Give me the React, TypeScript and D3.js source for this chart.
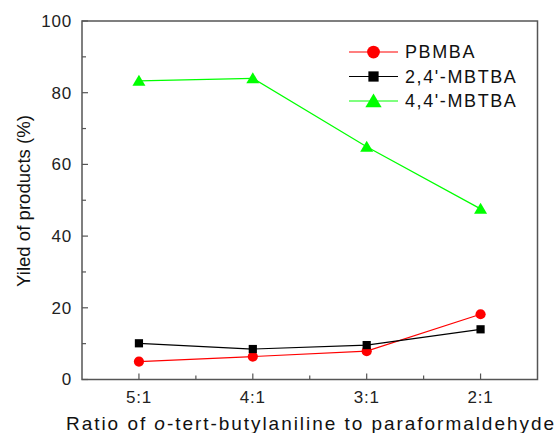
import React from "react";
import * as d3 from "d3";

const categories = ["5:1", "4:1", "3:1", "2:1"];
const pbmba = [5.0, 6.4, 7.9, 18.2];
const mbtba24 = [10.1, 8.5, 9.6, 14.0];
const mbtba44 = [83.3, 84.0, 64.9, 47.6];
const yTicks = [0, 20, 40, 60, 80, 100];
const yMinor = [10, 30, 50, 70, 90];

const W = 555, H = 433;
const M = { left: 82, right: 537.5, top: 21, bottom: 379.5 };

export default function App() {
  const x = d3.scaleLinear().domain([-0.5, 3.5]).range([M.left, M.right]);
  const y = d3.scaleLinear().domain([0, 100]).range([M.bottom, M.top]);
  const line = d3.line<number>().x((_, i) => x(i)).y((d) => y(d));
  const axisColor = "#555";
  const font = "Liberation Sans, Arial, sans-serif";

  const series = [
    { name: "PBMBA", data: pbmba, color: "#ff0000", marker: "circle" },
    { name: "2,4'-MBTBA", data: mbtba24, color: "#000000", marker: "square" },
    { name: "4,4'-MBTBA", data: mbtba44, color: "#00ff00", marker: "triangle" },
  ];

  const marker = (type: string, cx: number, cy: number, color: string, s: number, key?: any) => {
    if (type === "circle") return <circle key={key} cx={cx} cy={cy} r={5.1 * s} fill={color} />;
    if (type === "square") return <rect key={key} x={cx - 4.1 * s} y={cy - 4.1 * s} width={8.2 * s} height={8.2 * s} fill={color} />;
    const p = d3.path();
    p.moveTo(cx, cy - 6 * s);
    p.lineTo(cx + 6.5 * s, cy + 5 * s);
    p.lineTo(cx - 6.5 * s, cy + 5 * s);
    p.closePath();
    return <path key={key} d={p.toString()} fill={color} />;
  };

  const minorX = [0.5, 1.5, 2.5];

  return (
    <svg width={W} height={H} style={{ position: "absolute", left: 0, top: 0, background: "#fff" }}>
      <rect x={0} y={0} width={W} height={H} fill="#fff" />
      <rect x={M.left} y={M.top} width={M.right - M.left} height={M.bottom - M.top} fill="none" stroke={axisColor} strokeWidth={1.5} />
      {yTicks.map((t) => (
        <g key={"y" + t}>
          <line x1={M.left} x2={M.left + 6} y1={y(t)} y2={y(t)} stroke={axisColor} strokeWidth={1.2} />
          <text x={72} y={y(t)} dy="0.35em" textAnchor="end" fontSize={17} fontFamily={font} fill="#222" letterSpacing={0.8}>{t}</text>
        </g>
      ))}
      {yMinor.map((t) => (
        <line key={"ym" + t} x1={M.left} x2={M.left + 4} y1={y(t)} y2={y(t)} stroke={axisColor} strokeWidth={1.2} />
      ))}
      {categories.map((c, i) => (
        <g key={"x" + c}>
          <line x1={x(i)} x2={x(i)} y1={M.bottom} y2={M.bottom - 6} stroke={axisColor} strokeWidth={1.2} />
          <text x={x(i)} y={403} textAnchor="middle" fontSize={17} fontFamily={font} fill="#222" letterSpacing={0.8}>{c}</text>
        </g>
      ))}
      {minorX.map((t) => (
        <line key={"xm" + t} x1={x(t)} x2={x(t)} y1={M.bottom} y2={M.bottom - 4} stroke={axisColor} strokeWidth={1.2} />
      ))}
      {series.map((s) => (
        <g key={s.name}>
          <path d={line(s.data) || ""} fill="none" stroke={s.color} strokeWidth={1.2} />
          {s.data.map((d, i) => marker(s.marker, x(i), y(d), s.color, 1, i))}
        </g>
      ))}
      {series.map((s, i) => {
        const ly = 52 + i * 24.5;
        return (
          <g key={"lg" + s.name}>
            <line x1={349} x2={398} y1={ly} y2={ly} stroke={s.color} strokeWidth={1.2} />
            {marker(s.marker, 373.5, ly, s.color, 1.25)}
            <text x={405} y={ly} dy="0.36em" fontSize={18} fontFamily={font} fill="#111" letterSpacing={1.6}>{s.name}</text>
          </g>
        );
      })}
      <text x={66} y={430} fontSize={19} fontFamily={font} fill="#111" textLength={488} lengthAdjust="spacing">
        Ratio of <tspan fontStyle="italic">o</tspan>-tert-butylaniline to paraformaldehyde
      </text>
      <text transform={`translate(30,201) rotate(-90)`} textAnchor="middle" fontSize={18.6} fontFamily={font} fill="#111">
        Yiled of products (%)
      </text>
    </svg>
  );
}
